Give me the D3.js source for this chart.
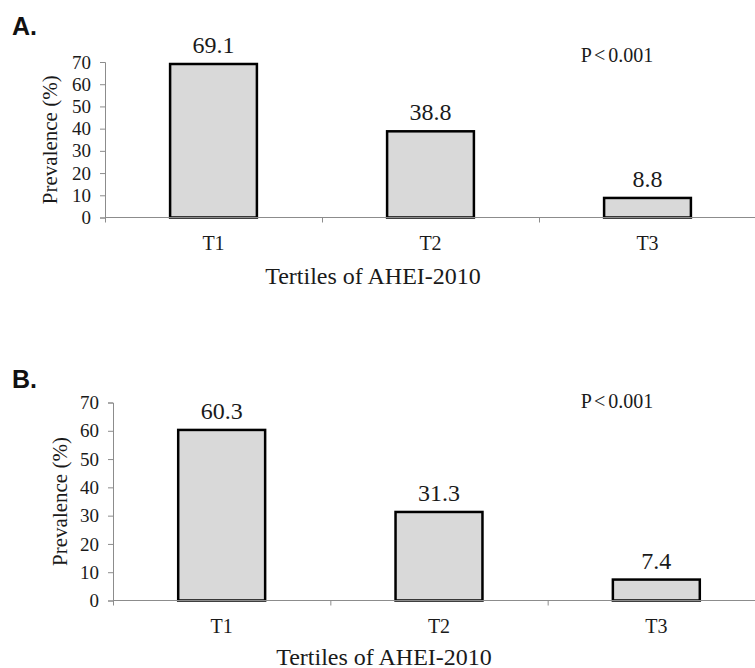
<!DOCTYPE html>
<html lang="en">
<head>
  <title>Prevalence by tertiles of AHEI-2010</title>
  <meta charset="UTF-8">
  <style>
    body {
      margin: 0;
      background: #fff;
    }
  </style>
  <script src="https://cdn.jsdelivr.net/npm/d3@7"></script>
</head>
  <body>
    <script>
      var tertiles = ["T1", "T2", "T3"];
      var prevalenceA = [69.1, 38.8, 8.8];
      var prevalenceB = [60.3, 31.3, 7.4];
      var yTicks = [0, 10, 20, 30, 40, 50, 60, 70];
      var yMax = 70;
      var pValueText = "P < 0.001";
      var xTitle = "Tertiles of AHEI-2010";
      var yTitle = "Prevalence (%)";

      var serif = "'Liberation Serif', 'Times New Roman', serif";

      var svg = d3.select("body").append("svg")
        .attr("width", 755)
        .attr("height", 668);

      makePanel(svg, {
        letter: "A.", values: prevalenceA,
        left: 105, right: 756, top: 62, bottom: 217.5,
        letterY: 35, yTitleX: 50, pY: 62, tickY: 250, titleX: 373, titleY: 284
      });
      makePanel(svg, {
        letter: "B.", values: prevalenceB,
        left: 113, right: 765, top: 402.5, bottom: 600.5,
        letterY: 388, yTitleX: 60, pY: 408, tickY: 633, titleX: 384, titleY: 665
      });

      function makePanel(svg, p) {
        var g = svg.append("g");
        var data = tertiles.map(function(t, i) { return { tertile: t, value: p.values[i] }; });

        var x = d3.scaleBand().domain(tertiles).range([p.left, p.right])
          .paddingInner(0.6).paddingOuter(0.3);
        var xEdge = d3.scaleLinear().domain([0, tertiles.length]).range([p.left, p.right]);
        var y = d3.scaleLinear().domain([0, yMax]).range([p.bottom, p.top]);

        // y axis
        var yAxis = g.append("g")
          .attr("transform", "translate(" + p.left + ",0)")
          .call(d3.axisLeft(y).tickValues(yTicks).tickSize(5).tickPadding(9));
        yAxis.selectAll("path, line").attr("stroke", "#8c8c8c");
        yAxis.selectAll("text")
          .style("font-family", serif)
          .style("font-size", "19px")
          .attr("fill", "#1a1a1a");

        // bars
        g.selectAll("rect.bar")
          .data(data)
          .enter()
          .append("rect")
          .attr("class", "bar")
          .attr("x", function(d) { return x(d.tertile); })
          .attr("y", function(d) { return y(d.value); })
          .attr("width", x.bandwidth())
          .attr("height", function(d) { return y(0) - y(d.value); })
          .attr("fill", "#d9d9d9")
          .attr("stroke", "#000")
          .attr("stroke-width", 2.5);

        // x axis, ticks sit at the band edges
        var xAxis = g.append("g")
          .attr("transform", "translate(0," + p.bottom + ")")
          .call(d3.axisBottom(xEdge).tickValues([0, 1, 2]).tickSize(5).tickFormat(""));
        xAxis.select("path").attr("d", "M" + p.left + ",0H" + p.right).attr("stroke", "#8c8c8c");
        xAxis.selectAll("line").attr("stroke", "#8c8c8c");

        // category labels
        g.selectAll("text.cat")
          .data(data)
          .enter()
          .append("text")
          .attr("class", "cat")
          .attr("x", function(d) { return x(d.tertile) + x.bandwidth() / 2; })
          .attr("y", p.tickY)
          .attr("text-anchor", "middle")
          .style("font-family", serif)
          .style("font-size", "20px")
          .attr("fill", "#1a1a1a")
          .text(function(d) { return d.tertile; });

        // value labels
        g.selectAll("text.val")
          .data(data)
          .enter()
          .append("text")
          .attr("class", "val")
          .attr("x", function(d) { return x(d.tertile) + x.bandwidth() / 2; })
          .attr("y", function(d) { return y(d.value) - 11; })
          .attr("text-anchor", "middle")
          .style("font-family", serif)
          .style("font-size", "24px")
          .attr("fill", "#1a1a1a")
          .text(function(d) { return d.value.toFixed(1); });

        // titles
        g.append("text")
          .attr("text-anchor", "middle")
          .attr("transform", "translate(" + p.yTitleX + "," + (p.top + p.bottom) / 2 + ")rotate(-90)")
          .attr("dy", "0.35em")
          .style("font-family", serif)
          .style("font-size", "21px")
          .attr("fill", "#1a1a1a")
          .text(yTitle);

        g.append("text")
          .attr("x", p.titleX)
          .attr("y", p.titleY)
          .attr("text-anchor", "middle")
          .style("font-family", serif)
          .style("font-size", "24px")
          .attr("fill", "#1a1a1a")
          .text(xTitle);

        g.append("text")
          .attr("x", 617)
          .attr("y", p.pY)
          .attr("text-anchor", "middle")
          .style("font-family", serif)
          .style("font-size", "20px")
          .style("word-spacing", "-2px")
          .attr("fill", "#1a1a1a")
          .text(pValueText);

        g.append("text")
          .attr("x", 12)
          .attr("y", p.letterY)
          .style("font-family", "'Liberation Sans', Arial, sans-serif")
          .style("font-weight", "bold")
          .style("font-size", "25px")
          .attr("fill", "#111")
          .text(p.letter);
      }
    </script>
  </body>
</html>
